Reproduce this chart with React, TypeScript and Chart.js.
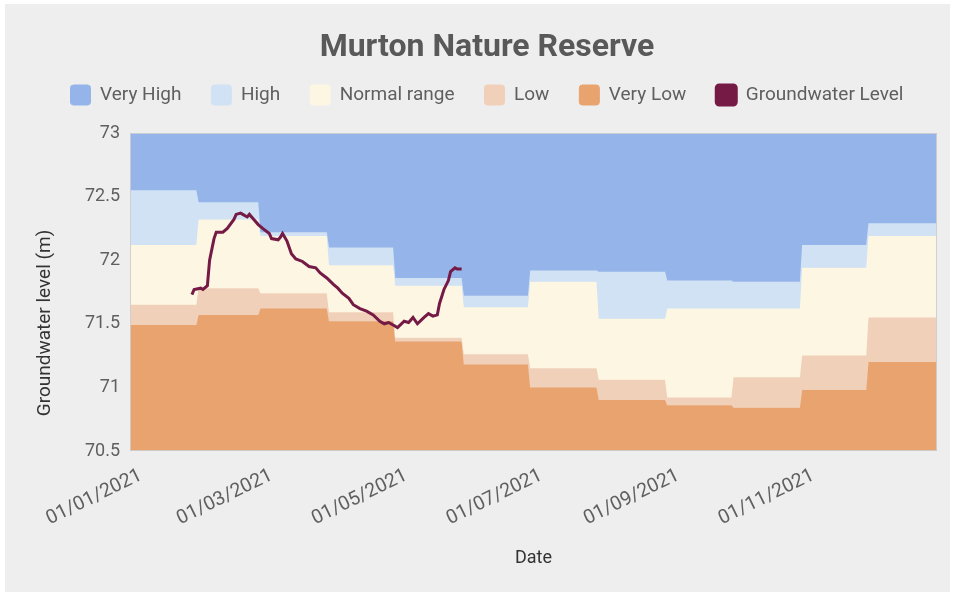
import React, { useEffect, useRef } from 'react';
import { Chart, registerables } from 'chart.js';

Chart.register(...registerables);

// Day-of-year (2021) at which each month starts
const monthStartDays = [0, 31, 59, 90, 120, 151, 181, 212, 243, 273, 304, 334];
const yearEndDay = 365;

// Monthly upper boundaries of each band (m)
const veryHighTop = [73, 73, 73, 73, 73, 73, 73, 73, 73, 73, 73, 73];
const highTop = [72.55, 72.455, 72.22, 72.1, 71.86, 71.72, 71.92, 71.91, 71.84, 71.83, 72.12, 72.29];
const normalTop = [72.12, 72.32, 72.19, 71.96, 71.8, 71.63, 71.83, 71.54, 71.62, 71.62, 71.94, 72.19];
const lowTop = [71.65, 71.78, 71.74, 71.59, 71.39, 71.26, 71.15, 71.06, 70.92, 71.08, 71.25, 71.55];
const veryLowTop = [71.49, 71.57, 71.62, 71.52, 71.36, 71.18, 71.0, 70.9, 70.86, 70.84, 70.98, 71.2];

// Groundwater level readings (day of year, metres)
const gwDays = [28, 29, 32, 33, 35, 36, 38, 39, 42, 44, 47, 48, 50, 51, 53, 54, 56, 58, 60, 63, 64, 67, 68, 69, 71, 73, 75, 78, 81, 84, 86, 89, 92, 94, 96, 99, 101, 104, 107, 110, 113, 115, 117, 119, 121, 124, 126, 128, 130, 133, 135, 137, 139, 140, 142, 144, 145, 147, 148, 150];
const gwLevels = [71.73, 71.77, 71.78, 71.77, 71.8, 72.0, 72.17, 72.22, 72.22, 72.25, 72.32, 72.36, 72.37, 72.36, 72.34, 72.36, 72.32, 72.28, 72.25, 72.21, 72.17, 72.16, 72.18, 72.21, 72.15, 72.05, 72.01, 71.99, 71.95, 71.94, 71.9, 71.86, 71.81, 71.78, 71.74, 71.7, 71.65, 71.62, 71.6, 71.57, 71.52, 71.5, 71.51, 71.49, 71.47, 71.52, 71.51, 71.55, 71.5, 71.55, 71.58, 71.56, 71.57, 71.66, 71.77, 71.84, 71.91, 71.94, 71.93, 71.93];

// X-axis ticks
const tickDays = [0, 59, 120, 181, 243, 304];
const tickLabels = ['01/01/2021', '01/03/2021', '01/05/2021', '01/07/2021', '01/09/2021', '01/11/2021'];

const seriesNames = ['Very High', 'High', 'Normal range', 'Low', 'Very Low', 'Groundwater Level'];
const seriesColors = ['#95b5ea', '#d0e2f3', '#fdf6e3', '#f0d0b8', '#e8a36f', '#751a45'];
const yAxisTitle = 'Groundwater level (m)';

function stepPoints(values: number[]) {
  const pts: { x: number; y: number }[] = [];
  values.forEach((v, i) => {
    const start = monthStartDays[i];
    const end = i + 1 < monthStartDays.length ? monthStartDays[i + 1] - 1 : yearEndDay;
    pts.push({ x: start, y: v }, { x: end, y: v });
  });
  return pts;
}

const legendFitPatch = {
  id: 'legendFitPatch',
  beforeLayout(chart: any) {
    const lg = chart.legend;
    if (lg && !lg._patched) {
      const orig = lg.fit;
      lg.fit = function () {
        orig.call(this);
        this.height += 18;
      };
      lg._patched = true;
    }
  },
};

const areaBorder = {
  id: 'areaBorder',
  afterDatasetsDraw(chart: any) {
    const { ctx, chartArea } = chart;
    ctx.save();
    ctx.strokeStyle = 'rgba(205,205,205,0.9)';
    ctx.lineWidth = 1;
    ctx.strokeRect(chartArea.left + 0.5, chartArea.top + 0.5, chartArea.right - chartArea.left - 1, chartArea.bottom - chartArea.top - 1);
    ctx.restore();
  },
};

// Y-axis title, set slightly below the middle of the plot as in the original
const yTitle = {
  id: 'yTitle',
  afterDraw(chart: any) {
    const { ctx, chartArea } = chart;
    const cy = (chartArea.top + chartArea.bottom) / 2 + 31;
    ctx.save();
    ctx.translate(40, cy);
    ctx.rotate(-Math.PI / 2);
    ctx.font = '19px Roboto';
    ctx.fillStyle = '#333333';
    ctx.textAlign = 'center';
    ctx.textBaseline = 'middle';
    ctx.fillText(yAxisTitle, 0, 0);
    ctx.restore();
  },
};

export default function App() {
  const ref = useRef<HTMLCanvasElement>(null);

  useEffect(() => {
    Chart.defaults.font.family = 'Roboto';
    const bands = [veryHighTop, highTop, normalTop, lowTop, veryLowTop];
    const datasets: any[] = bands.map((vals, i) => ({
      label: seriesNames[i],
      data: stepPoints(vals),
      backgroundColor: seriesColors[i],
      borderColor: seriesColors[i],
      borderWidth: 1,
      pointRadius: 0,
      tension: 0,
      order: 1,
      fill: i < bands.length - 1 ? '+1' : 'start',
    }));
    datasets.push({
      label: seriesNames[5],
      data: gwDays.map((d, i) => ({ x: d, y: gwLevels[i] })),
      backgroundColor: seriesColors[5],
      borderColor: seriesColors[5],
      borderWidth: 3,
      pointRadius: 0,
      tension: 0,
      order: 0,
      fill: false,
    });

    const chart = new Chart(ref.current as HTMLCanvasElement, {
      type: 'line',
      data: { datasets },
      plugins: [legendFitPatch, areaBorder, yTitle],
      options: {
        responsive: false,
        animation: false,
        devicePixelRatio: 1,
        layout: { padding: { left: 32, right: 13, top: 0, bottom: 0 } },
        plugins: {
          title: {
            display: true,
            text: 'Murton Nature Reserve',
            color: '#595959',
            font: { size: 32, weight: 'bold', family: 'Roboto' },
            padding: { top: 25, bottom: -12.4 },
          },
          legend: {
            display: true,
            labels: {
              color: '#5f5f5f',
              font: { size: 19, family: 'Roboto' },
              boxWidth: 20,
              boxHeight: 20,
              padding: 30,
              useBorderRadius: true,
              borderRadius: 3,
              sort: (a: any, b: any) => a.datasetIndex - b.datasetIndex,
            },
          },
          tooltip: { enabled: false },
        },
        scales: {
          x: {
            type: 'linear',
            min: 0,
            max: yearEndDay,
            grid: { display: false, drawTicks: false },
            border: { display: false },
            afterBuildTicks: (scale: any) => {
              scale.ticks = tickDays.map((v) => ({ value: v }));
            },
            afterFit: (scale: any) => {
              scale.height = 141;
            },
            ticks: {
              autoSkip: false,
              minRotation: 26,
              maxRotation: 26,
              padding: 13,
              labelOffset: 11,
              color: '#5f5f5f',
              font: { size: 19.5, family: 'Roboto' },
              callback: (value: any) => {
                const idx = tickDays.indexOf(Number(value));
                return idx >= 0 ? tickLabels[idx] : '';
              },
            },
            title: {
              display: true,
              text: 'Date',
              color: '#333333',
              font: { size: 18, family: 'Roboto' },
              padding: { top: 0, bottom: 23 },
            },
          },
          y: {
            type: 'linear',
            min: 70.5,
            max: 73,
            grid: { display: false, drawTicks: false },
            border: { display: false },
            afterFit: (scale: any) => {
              scale.width = 93;
            },
            ticks: {
              stepSize: 0.5,
              padding: 10,
              color: '#5f5f5f',
              font: { size: 18, family: 'Roboto' },
              callback: (value: any) => String(Number(value)),
            },
            title: { display: false },
          },
        },
      } as any,
    });
    return () => chart.destroy();
  }, []);

  return (
    <div
      style={{
        position: 'fixed',
        left: 5,
        top: 4,
        width: 945,
        height: 588,
        background: '#eeeeee',
      }}
    >
      <canvas ref={ref} width={945} height={588} style={{ display: 'block' }} />
    </div>
  );
}
